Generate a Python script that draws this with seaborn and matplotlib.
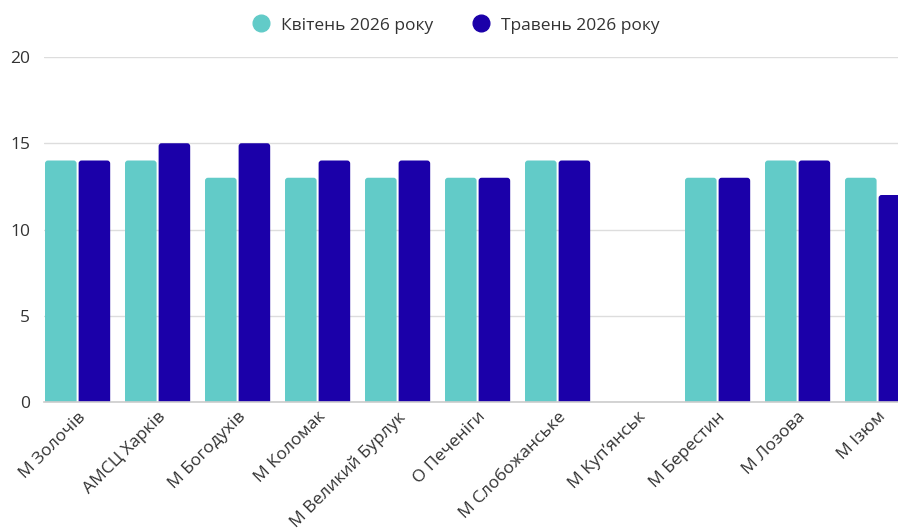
import matplotlib
matplotlib.use("Agg")
import matplotlib.pyplot as plt
import seaborn as sns
import numpy as np
import pandas as pd
from matplotlib.lines import Line2D
from matplotlib.patches import FancyBboxPatch

categories = ["М Золочів", "АМСЦ Харків", "М Богодухів", "М Коломак", "М Великий Бурлук",
              "О Печеніги", "М Слобожанське", "М Куп’янськ", "М Берестин", "М Лозова", "М Ізюм"]
series_names = ["Квітень 2026 року", "Травень 2026 року"]
april = [14, 14, 13, 13, 13, 13, 14, np.nan, 13, 14, 13]
may = [14, 15, 15, 14, 14, 13, 14, np.nan, 13, 14, 12]
yticks = [0, 5, 10, 15, 20]
colors = ["#62CBC8", "#1B00A9"]

df = pd.DataFrame({
    "cat": categories * 2,
    "series": [series_names[0]] * len(categories) + [series_names[1]] * len(categories),
    "value": april + may,
})

sns.set_theme(style="white")
plt.rcParams["font.family"] = ["Open Sans", "DejaVu Sans"]
text_color = "#333333"

bw = 0.84
fig = plt.figure(figsize=(8.98, 5.29), dpi=100)
n = len(categories)
span = (n - 1) + bw
ax = fig.add_axes([44 / 898, 127 / 529, span * 80 / 898, 345 / 529])

sns.barplot(data=df, x="cat", y="value", hue="series", order=categories,
            hue_order=series_names, palette=colors, width=bw, gap=0.06,
            saturation=1, ax=ax, legend=False, errorbar=None, linewidth=0)

ax.set_xlim(-bw / 2, n - 1 + bw / 2)
ax.set_ylim(0, 20)

# round the top corners of the bars
px_x = 1 / 80.0
px_y = 20 / 345.0
for p in list(ax.patches):
    h = p.get_height()
    if not np.isfinite(h) or h <= 0:
        continue
    x, w = p.get_x(), p.get_width()
    fc = p.get_facecolor()
    p.set_visible(False)
    r = 3 * px_x
    fb = FancyBboxPatch((x, -0.5), w, h + 0.5,
                        boxstyle=f"round,pad=0,rounding_size={r}",
                        mutation_aspect=px_y / px_x, facecolor=fc,
                        edgecolor="none", linewidth=0, zorder=2)
    ax.add_patch(fb)

ax.set_yticks(yticks)
ax.set_yticklabels([str(t) for t in yticks], fontsize=12.5, color=text_color)
ax.yaxis.grid(True, color="#DDDDDD", linewidth=1)
ax.set_axisbelow(True)
for s in ["top", "right", "left"]:
    ax.spines[s].set_visible(False)
ax.spines["bottom"].set_color("#CCCCCC")
ax.spines["bottom"].set_linewidth(1.2)
ax.spines["bottom"].set_zorder(3)
ax.tick_params(axis="y", length=0, pad=10)
ax.tick_params(axis="x", length=0, pad=5)
ax.set_xlabel("")
ax.set_ylabel("")
ax.set_xticks(range(n))
ax.set_xticklabels(categories, rotation=45, ha="right", rotation_mode="anchor",
                   fontsize=12.5, color=text_color)

handles = [Line2D([0], [0], marker="o", linestyle="", markersize=12,
                  markerfacecolor=c, markeredgecolor=c) for c in colors]
fig.legend(handles, series_names, loc="upper center", bbox_to_anchor=(0.503, 1.0),
           ncol=2, frameon=False, fontsize=12.5, handletextpad=0.2,
           columnspacing=1.7, labelcolor=text_color, borderaxespad=0.6)

fig.savefig("out.png", dpi=100)
